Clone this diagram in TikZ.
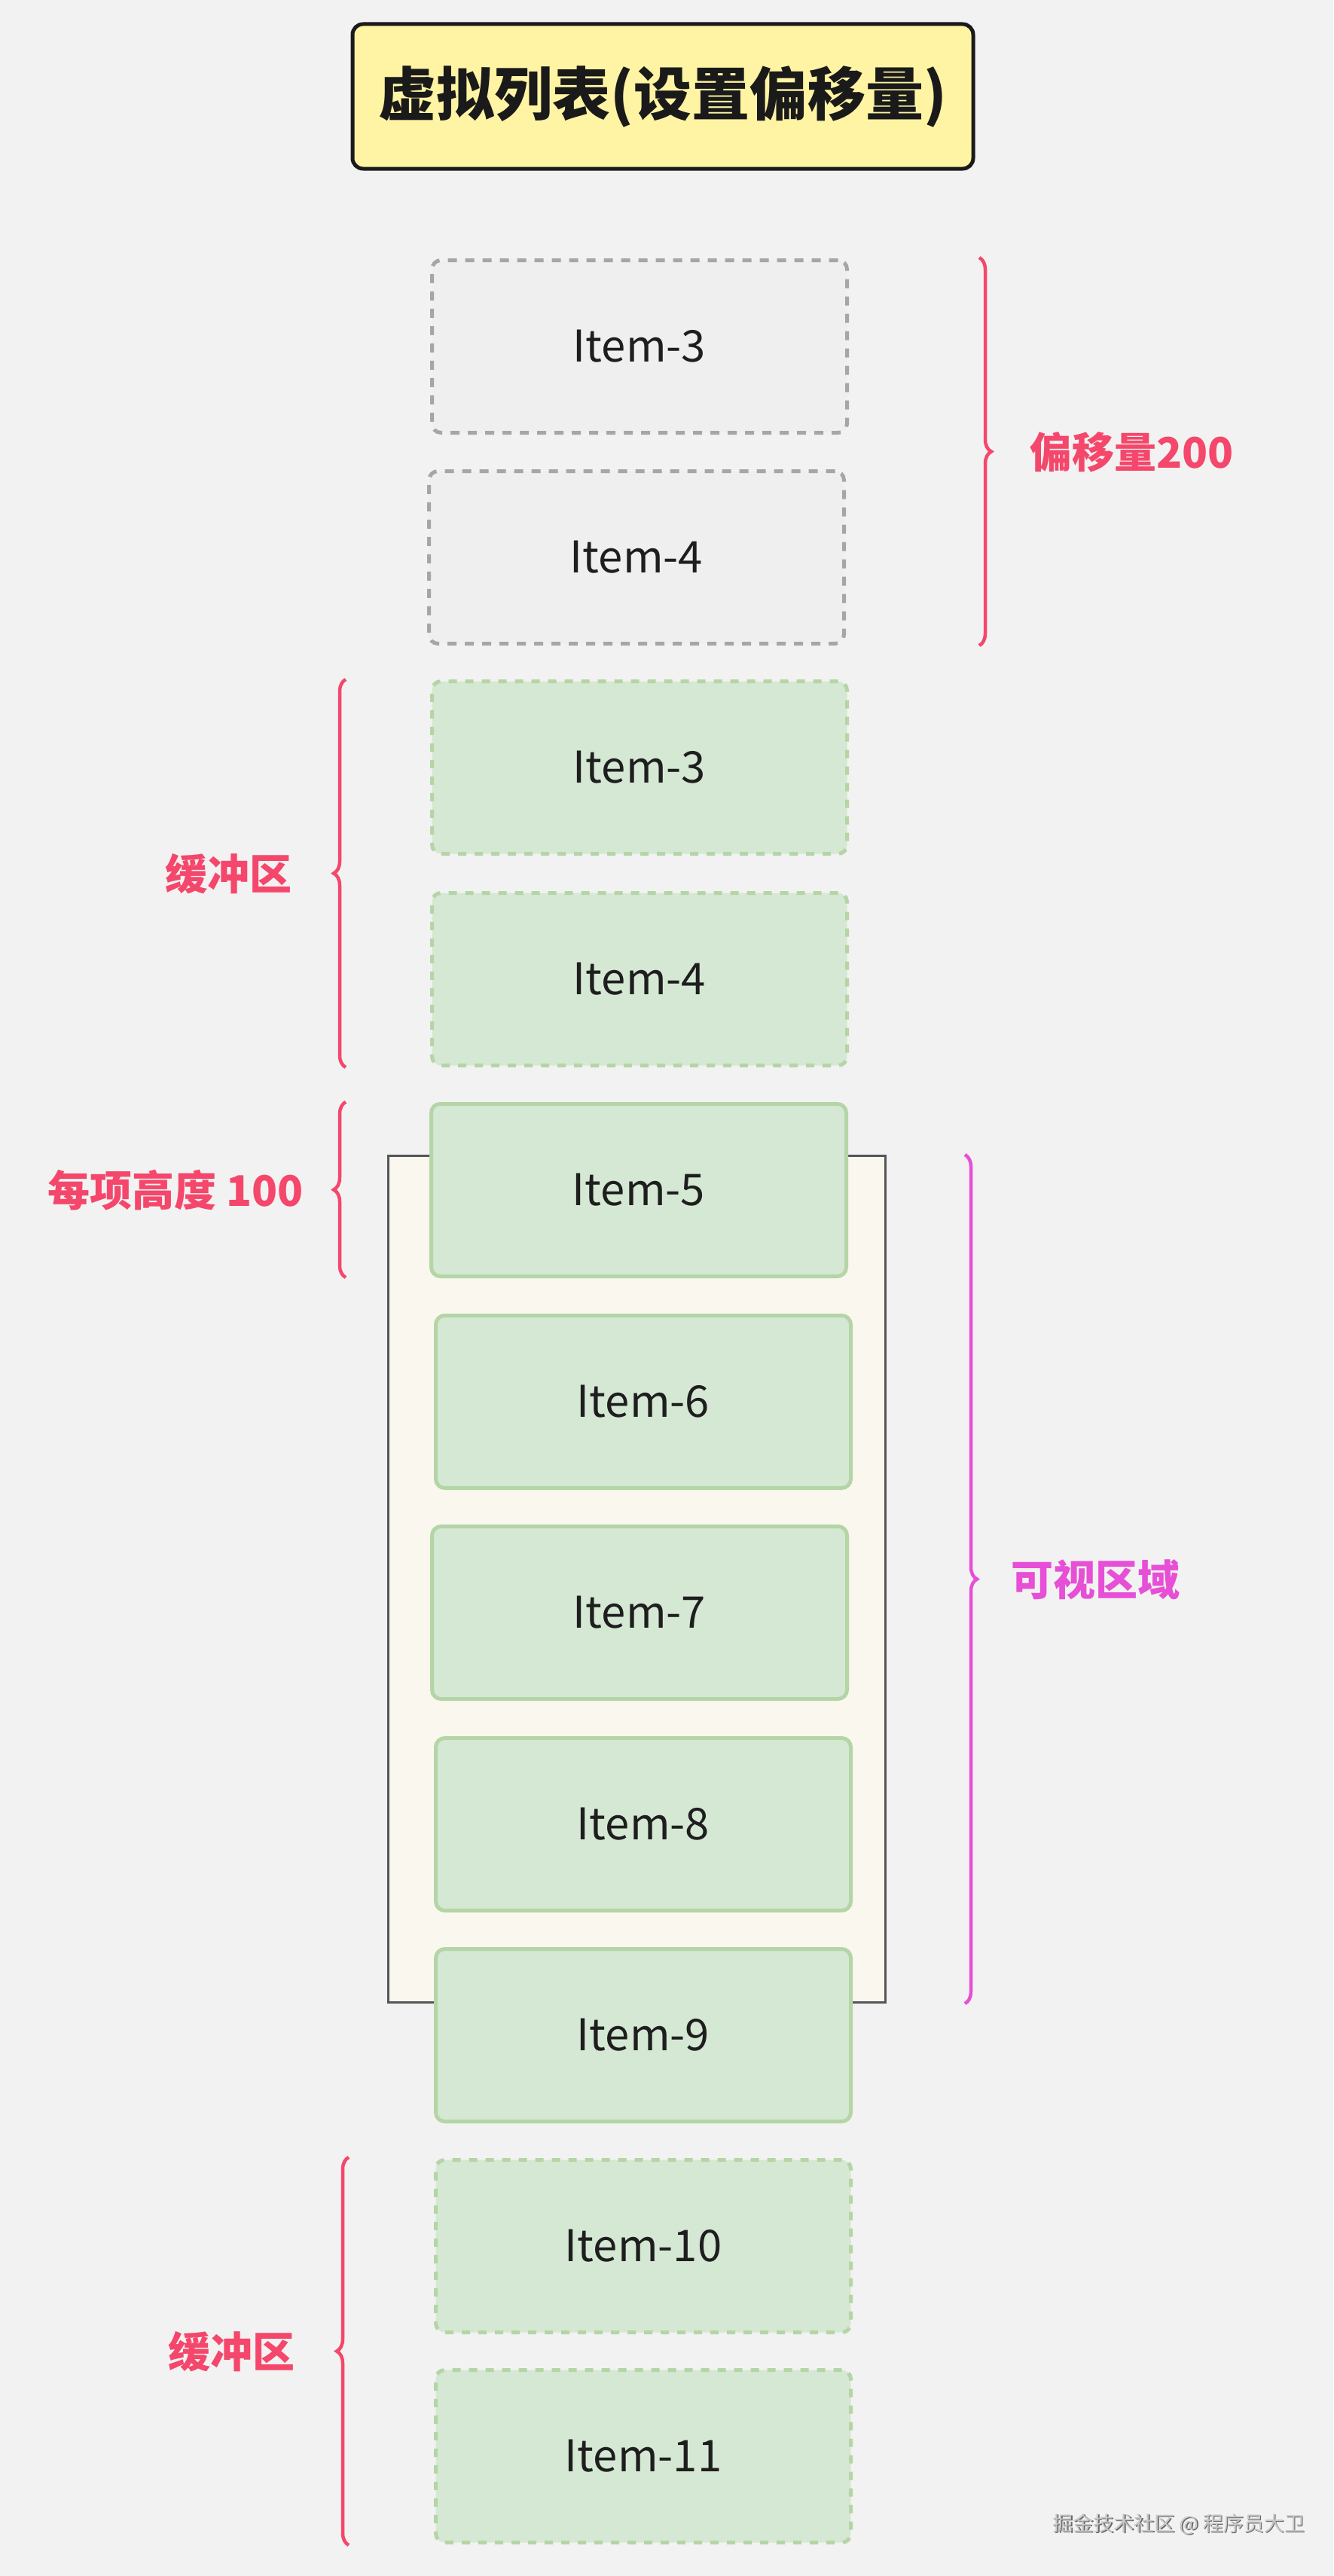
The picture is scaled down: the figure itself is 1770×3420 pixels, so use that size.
\documentclass[tikz,border=0pt]{standalone}
\usepackage{fontspec}
\setmainfont{Noto Sans CJK SC}
\usetikzlibrary{decorations.pathreplacing}
\definecolor{bgc}{HTML}{F2F2F2}
\definecolor{titlefill}{HTML}{FFF4A3}
\definecolor{titledraw}{HTML}{1A1A1A}
\definecolor{greyfill}{HTML}{EFEFEF}
\definecolor{greydraw}{HTML}{A6A6A6}
\definecolor{greenfill}{HTML}{D5E8D4}
\definecolor{greendraw}{HTML}{B5D5A6}
\definecolor{viewfill}{HTML}{F9F7EE}
\definecolor{viewdraw}{HTML}{555555}
\definecolor{redc}{HTML}{F4476B}
\definecolor{magc}{HTML}{E64FD6}
\definecolor{textc}{HTML}{1E1E1E}
\tikzset{
  itembox/.style={rectangle, rounded corners=12pt, line width=5pt,
    minimum width=551pt, minimum height=229pt, inner sep=0pt,
    text=textc, font=\fontsize{58pt}{70pt}\selectfont},
  ghostbox/.style={itembox, fill=greyfill, draw=greydraw, dash pattern=on 12pt off 11pt},
  bufbox/.style={itembox, fill=greenfill, draw=greendraw, dash pattern=on 11pt off 11pt},
  livebox/.style={itembox, fill=greenfill, draw=greendraw},
  lbl/.style={font=\fontsize{56pt}{66pt}\selectfont\bfseries, inner sep=0pt},
  bracel/.style={decorate, decoration={brace, amplitude=16pt}, line width=4.5pt},
}
\begin{document}
\begin{tikzpicture}[x=1pt,y=-1pt]
\fill[bgc] (0,0) rectangle (1770,3420);
\useasboundingbox (0,0) rectangle (1770,3420);

% title
\node[rectangle, rounded corners=14pt, line width=5pt, fill=titlefill, draw=titledraw,
  minimum width=824pt, minimum height=192pt, inner sep=0pt,
  font=\fontsize{77pt}{90pt}\selectfont\bfseries, text=titledraw] (title) at (880,128) {虚拟列表(设置偏移量)};

% viewport
\node[rectangle, fill=viewfill, draw=viewdraw, line width=3pt, inner sep=0pt,
  minimum width=660pt, minimum height=1124pt] (view) at (845.5,2096.5) {};

% items
\node[ghostbox] (g3) at (849,460) {Item-3};
\node[ghostbox] (g4) at (845,740) {Item-4};
\node[bufbox] (b3) at (849,1019) {Item-3};
\node[bufbox] (b4) at (849,1300) {Item-4};
\node[livebox] (i5) at (848,1580) {Item-5};
\node[livebox] (i6) at (854,1861) {Item-6};
\node[livebox] (i7) at (849,2141) {Item-7};
\node[livebox] (i8) at (854,2422) {Item-8};
\node[livebox] (i9) at (854,2702) {Item-9};
\node[bufbox] (i10) at (854,2982) {Item-10};
\node[bufbox] (i11) at (854,3261) {Item-11};

% braces
\coordinate (oT) at (1300,342);
\coordinate (oB) at (1300,857);
\draw[bracel, redc] (oT) -- (oB);
\node[lbl, text=redc, anchor=west] (offl) at (1367,600) {偏移量200};

\coordinate (bT) at (459,902);
\coordinate (bB) at (459,1417);
\draw[bracel, redc] (bB) -- (bT);
\node[lbl, text=redc] (buf1) at (303,1160) {缓冲区};

\coordinate (hT) at (459,1463);
\coordinate (hB) at (459,1696);
\draw[bracel, redc] (hB) -- (hT);
\node[lbl, text=redc] (hl) at (233,1580) {每项高度 100};

\coordinate (vT) at (1281,1533);
\coordinate (vB) at (1281,2660);
\draw[bracel, magc] (vT) -- (vB);
\node[lbl, text=magc, anchor=west] (vl) at (1342,2097) {可视区域};

\coordinate (cT) at (463,2864);
\coordinate (cB) at (463,3379);
\draw[bracel, redc] (cB) -- (cT);
\node[lbl, text=redc] (buf2) at (307,3122) {缓冲区};

% watermark
\node[anchor=east, inner sep=0pt, text=black!60, font=\fontsize{27pt}{32pt}\selectfont] (wms) at (1734,3352.5) {掘金技术社区 @ 程序员大卫};
\node[anchor=east, inner sep=0pt, text=black!22, font=\fontsize{27pt}{32pt}\selectfont] (wm) at (1732.5,3351) {掘金技术社区 @ 程序员大卫};
\end{tikzpicture}
\end{document}
